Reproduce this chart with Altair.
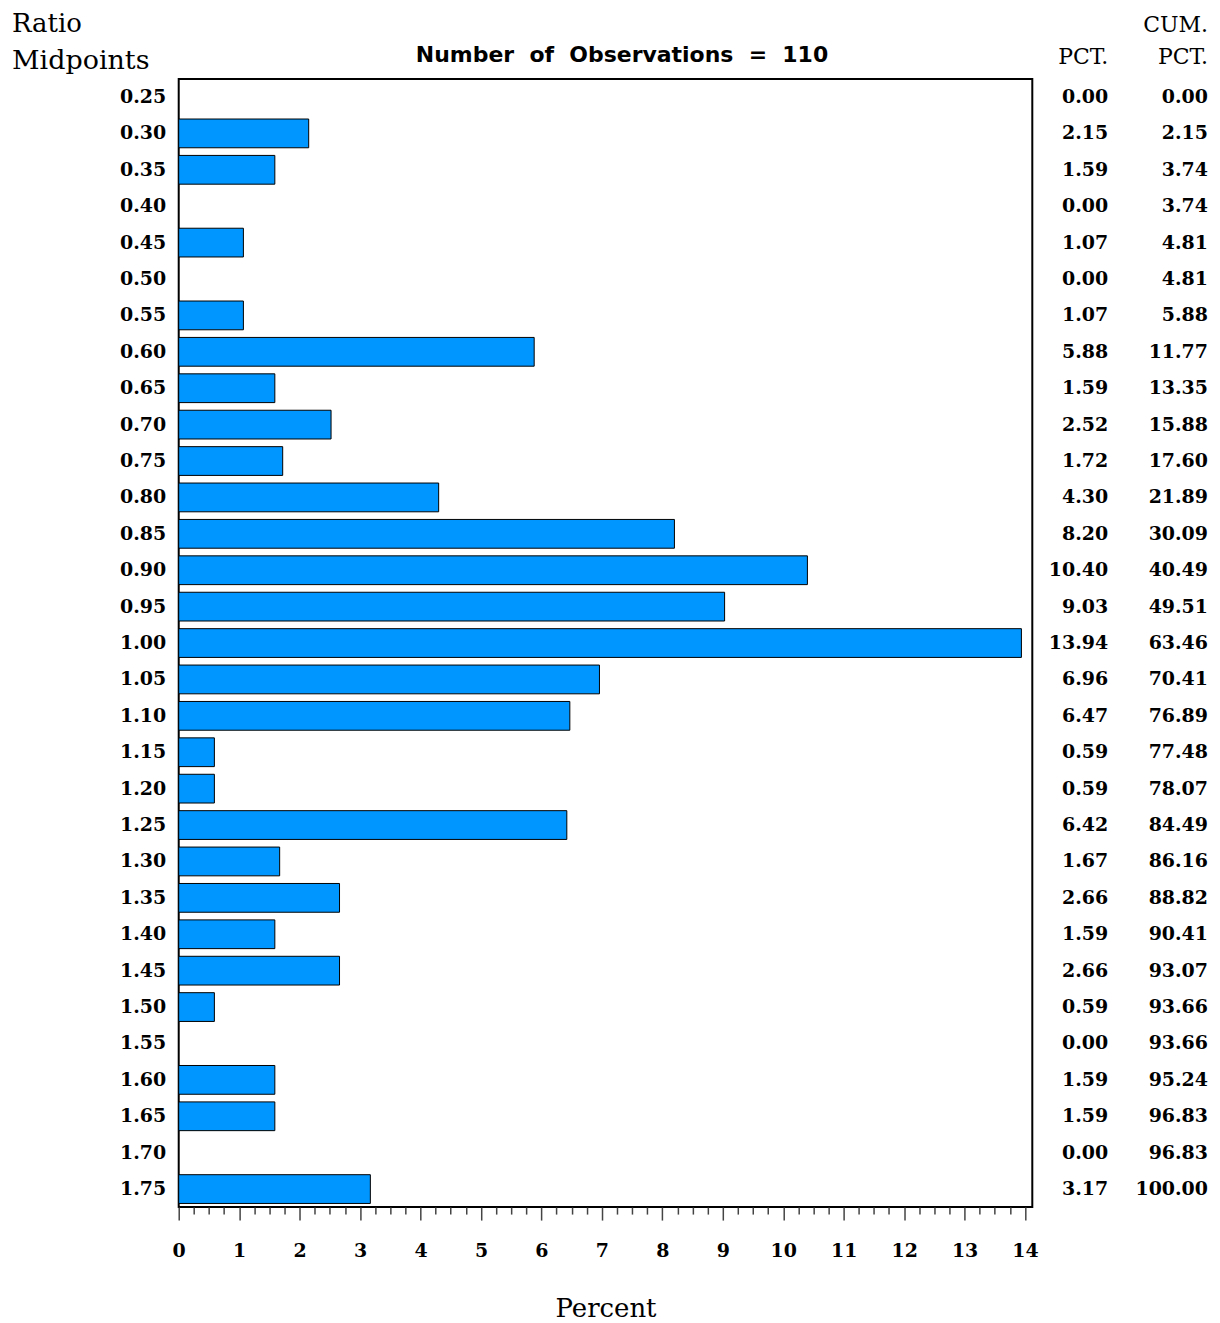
import altair as alt
import pandas as pd

midpoints = ["0.25", "0.30", "0.35", "0.40", "0.45", "0.50", "0.55", "0.60", "0.65", "0.70",
             "0.75", "0.80", "0.85", "0.90", "0.95", "1.00", "1.05", "1.10", "1.15", "1.20",
             "1.25", "1.30", "1.35", "1.40", "1.45", "1.50", "1.55", "1.60", "1.65", "1.70", "1.75"]
pct = [0.00, 2.15, 1.59, 0.00, 1.07, 0.00, 1.07, 5.88, 1.59, 2.52,
       1.72, 4.30, 8.20, 10.40, 9.03, 13.94, 6.96, 6.47, 0.59, 0.59,
       6.42, 1.67, 2.66, 1.59, 2.66, 0.59, 0.00, 1.59, 1.59, 0.00, 3.17]
cum = [0.00, 2.15, 3.74, 3.74, 4.81, 4.81, 5.88, 11.77, 13.35, 15.88,
       17.60, 21.89, 30.09, 40.49, 49.51, 63.46, 70.41, 76.89, 77.48, 78.07,
       84.49, 86.16, 88.82, 90.41, 93.07, 93.66, 93.66, 95.24, 96.83, 96.83, 100.00]
x_ticks = [i * 0.25 for i in range(57)]  # 0 .. 14 by 0.25

title_text = "Number\u00a0\u00a0of\u00a0\u00a0Observations\u00a0\u00a0=\u00a0\u00a0110"

W, H = 855, 1130
SERIF = "DejaVu Serif"

df = pd.DataFrame({"mid": midpoints, "pct": pct, "cum": cum})
df_bars = df[df["pct"] > 0]

y_enc = alt.Y("mid:N", sort=midpoints, scale=alt.Scale(domain=midpoints, paddingInner=0.21, paddingOuter=0.1),
              axis=alt.Axis(title=None, ticks=False, domain=False, labelPadding=13,
                            labelFont=SERIF, labelFontWeight="bold", labelFontSize=19,
                            labelColor="black"))
x_scale = alt.Scale(domain=[0, 14.12], nice=False, zero=True)

bars = alt.Chart(df_bars).mark_bar(color="#0096FF", stroke="black", strokeWidth=1).encode(
    x=alt.X("pct:Q", scale=x_scale,
            axis=alt.Axis(title=None, values=x_ticks, domain=False, grid=False, format=".0f",
                          tickSize={"condition": {"test": "datum.value % 1 === 0", "value": 13}, "value": 7},
                          tickColor="#444444", tickWidth=1.5,
                          labelExpr="datum.value % 1 === 0 ? datum.label : ''",
                          labelOverlap=False, labelFlush=False,
                          labelFont=SERIF, labelFontWeight="bold", labelFontSize=19,
                          labelColor="black", labelPadding=21)),
    y=y_enc,
)

pct_text = alt.Chart(df).mark_text(align="right", baseline="middle", font=SERIF,
                                    fontWeight="bold", fontSize=19, color="black").encode(
    x=alt.value(931), y=alt.Y("mid:N", sort=midpoints), text=alt.Text("pct:Q", format=".2f"))
cum_text = alt.Chart(df).mark_text(align="right", baseline="middle", font=SERIF,
                                    fontWeight="bold", fontSize=19, color="black").encode(
    x=alt.value(1031), y=alt.Y("mid:N", sort=midpoints), text=alt.Text("cum:Q", format=".2f"))

one = pd.DataFrame({"k": [0]})

def label(txt, x, y, align="left", size=27, font=SERIF, weight="normal"):
    return alt.Chart(one).mark_text(text=txt, align=align, baseline="alphabetic", font=font,
                                    fontSize=size, fontWeight=weight, color="black").encode(
        x=alt.value(x), y=alt.value(y))

layers = [
    bars, pct_text, cum_text,
    label("Ratio", -167, -47, size=26),
    label("Midpoints", -167, -10),
    label("PCT.", 931, -15, align="right", size=22),
    label("CUM.", 1031, -47, align="right", size=22),
    label("PCT.", 1031, -15, align="right", size=22),
    label(title_text, 444, -17, align="center", size=22, font="DejaVu Sans", weight="bold"),
    label("Percent", 428, 1240, align="center", size=26),
]

chart = alt.layer(*layers).properties(
    width=W, height=H,
    autosize=alt.AutoSizeParams(type="none"),
    padding={"left": 171, "top": 70, "right": 180, "bottom": 114},
).configure(background="white").configure_view(stroke="black", strokeWidth=2)

chart.save("out.html", embed_options={"renderer": "svg", "actions": False})
